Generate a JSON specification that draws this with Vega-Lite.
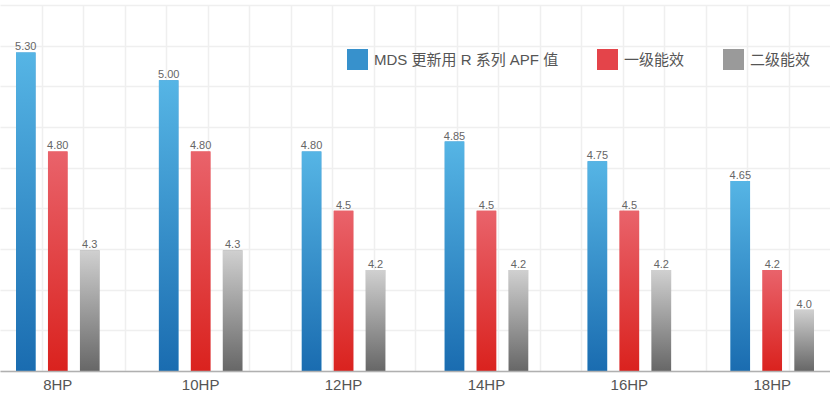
{
  "$schema": "https://vega.github.io/schema/vega-lite/v6.json",
  "width": 830,
  "height": 366,
  "autosize": "none",
  "padding": {"left": 0, "top": 5, "right": 0, "bottom": 27},
  "background": "white",
  "config": {
    "view": {"stroke": null},
    "font": "Liberation Sans, Noto Sans CJK SC"
  },
  "layer": [
    {
      "data": {"values": [{"g": 0}, {"g": 20}]},
      "mark": {"type": "point", "opacity": 0},
      "encoding": {
        "x": {
          "field": "g", "type": "quantitative",
          "scale": {"domain": [0, 20], "nice": false, "zero": false},
          "axis": {
            "orient": "top", "title": null, "labels": false, "ticks": false, "domain": false,
            "grid": true, "gridColor": "#efefef", "gridWidth": 1.5,
            "values": [1,2,3,4,5,6,7,8,9,10,11,12,13,14,15,16,17,18,19]
          }
        }
      }
    },
    {
      "data": {
        "values": [
          {"model": "8HP", "series": "MDS 更新用 R 系列 APF 值", "value": 5.30, "label": "5.30"},
          {"model": "8HP", "series": "一级能效", "value": 4.80, "label": "4.80"},
          {"model": "8HP", "series": "二级能效", "value": 4.3, "label": "4.3"},
          {"model": "10HP", "series": "MDS 更新用 R 系列 APF 值", "value": 5.16, "label": "5.00"},
          {"model": "10HP", "series": "一级能效", "value": 4.80, "label": "4.80"},
          {"model": "10HP", "series": "二级能效", "value": 4.3, "label": "4.3"},
          {"model": "12HP", "series": "MDS 更新用 R 系列 APF 值", "value": 4.80, "label": "4.80"},
          {"model": "12HP", "series": "一级能效", "value": 4.5, "label": "4.5"},
          {"model": "12HP", "series": "二级能效", "value": 4.2, "label": "4.2"},
          {"model": "14HP", "series": "MDS 更新用 R 系列 APF 值", "value": 4.85, "label": "4.85"},
          {"model": "14HP", "series": "一级能效", "value": 4.5, "label": "4.5"},
          {"model": "14HP", "series": "二级能效", "value": 4.2, "label": "4.2"},
          {"model": "16HP", "series": "MDS 更新用 R 系列 APF 值", "value": 4.75, "label": "4.75"},
          {"model": "16HP", "series": "一级能效", "value": 4.5, "label": "4.5"},
          {"model": "16HP", "series": "二级能效", "value": 4.2, "label": "4.2"},
          {"model": "18HP", "series": "MDS 更新用 R 系列 APF 值", "value": 4.65, "label": "4.65"},
          {"model": "18HP", "series": "一级能效", "value": 4.2, "label": "4.2"},
          {"model": "18HP", "series": "二级能效", "value": 4.0, "label": "4.0"}
        ]
      },
      "encoding": {
        "x": {
          "field": "model", "type": "nominal", "sort": null,
          "scale": {"paddingInner": 0.416, "paddingOuter": 0.112},
          "axis": {
            "orient": "bottom", "title": null, "labelAngle": 0, "ticks": false,
            "domain": true, "domainColor": "#b0b0b0", "domainWidth": 1.5,
            "labelFontSize": 15, "labelColor": "#555555", "labelPadding": 6,
            "labelFont": "Liberation Sans", "grid": false, "zindex": 1
          }
        },
        "xOffset": {
          "field": "series", "type": "nominal",
          "scale": {"domain": ["MDS 更新用 R 系列 APF 值", "一级能效", "二级能效"], "paddingInner": 0.39, "paddingOuter": 0}
        },
        "y": {
          "field": "value", "type": "quantitative",
          "scale": {"domain": [3.69, 5.54], "nice": false, "zero": false},
          "axis": {
            "title": null, "labels": false, "ticks": false, "domain": false,
            "grid": true, "gridColor": "#efefef", "gridWidth": 1.5,
            "values": [3.69, 3.8956, 4.1011, 4.3067, 4.5122, 4.7178, 4.9233, 5.1289, 5.3344, 5.54]
          }
        }
      },
      "layer": [
        {
          "mark": {"type": "bar"},
          "encoding": {
            "y2": {"datum": 3.69},
            "color": {
              "field": "series", "type": "nominal",
              "scale": {
                "domain": ["MDS 更新用 R 系列 APF 值", "一级能效", "二级能效"],
                "range": ["#3791cc", "#e4444a", "#9a9a9a"]
              },
              "legend": {
                "title": null, "orient": "none", "legendX": 347, "legendY": 44,
                "direction": "horizontal", "symbolType": "square", "symbolSize": 441,
                "symbolStrokeWidth": 0, "labelFontSize": 15, "labelColor": "#555555",
                "labelFont": "Liberation Sans, Noto Sans CJK SC",
                "labelOffset": 6, "columnPadding": 38, "padding": 0, "labelLimit": 300
              }
            }
          }
        },
        {
          "transform": [{"filter": "datum.series === 'MDS 更新用 R 系列 APF 值'"}],
          "mark": {"type": "bar", "color": {"gradient": "linear", "x1": 0, "y1": 0, "x2": 0, "y2": 1, "stops": [{"offset": 0, "color": "#56b5e5"}, {"offset": 1, "color": "#1a6cb0"}]}},
          "encoding": {"y2": {"datum": 3.69}}
        },
        {
          "transform": [{"filter": "datum.series === '一级能效'"}],
          "mark": {"type": "bar", "color": {"gradient": "linear", "x1": 0, "y1": 0, "x2": 0, "y2": 1, "stops": [{"offset": 0, "color": "#e9636b"}, {"offset": 1, "color": "#da221e"}]}},
          "encoding": {"y2": {"datum": 3.69}}
        },
        {
          "transform": [{"filter": "datum.series === '二级能效'"}],
          "mark": {"type": "bar", "color": {"gradient": "linear", "x1": 0, "y1": 0, "x2": 0, "y2": 1, "stops": [{"offset": 0, "color": "#d0d0d0"}, {"offset": 1, "color": "#676767"}]}},
          "encoding": {"y2": {"datum": 3.69}}
        },
        {
          "mark": {"type": "text", "baseline": "alphabetic", "dy": -2, "fontSize": 11, "color": "#666666", "font": "Liberation Sans"},
          "encoding": {
            "text": {"field": "label", "type": "nominal"}
          }
        }
      ]
    }
  ],
  "resolve": {"scale": {"x": "independent"}, "axis": {"x": "independent"}}
}
